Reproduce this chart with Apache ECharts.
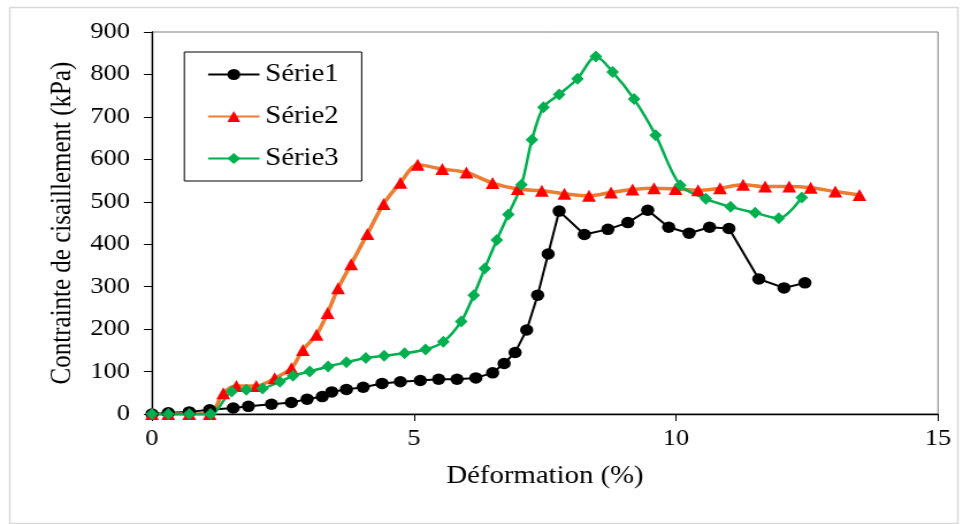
<!DOCTYPE html>
<html><head><meta charset="utf-8">
<script src="https://cdn.jsdelivr.net/npm/echarts@6/dist/echarts.min.js"></script>
<style>
html,body{margin:0;padding:0;background:#fff;overflow:hidden}
#wrap{width:963px;height:524px;overflow:hidden;position:relative;background:#fff}
#chart{width:837px;height:524px;transform:scaleX(1.150538);transform-origin:0 0}
</style></head>
<body><div id="wrap"><div id="chart"></div></div>
<script>
// ---- data ----
const seriesNames = ['Série1', 'Série2', 'Série3'];
const xAxisTitle = 'Déformation (%)';
const yAxisTitle = 'Contrainte de cisaillement (kPa)';
const xTicks = [0, 5, 10, 15];
const yTicks = [0, 100, 200, 300, 400, 500, 600, 700, 800, 900];

const s1x = [0, 0.31, 0.71, 1.1, 1.55, 1.84, 2.28, 2.66, 2.96, 3.25, 3.43, 3.71, 4.03, 4.39, 4.74, 5.12, 5.47, 5.82, 6.18, 6.5, 6.72, 6.93, 7.15, 7.36, 7.56, 7.77, 8.25, 8.7, 9.08, 9.46, 9.86, 10.25, 10.64, 11.01, 11.58, 12.06, 12.46];
const s1y = [0, 3, 5, 10, 14, 18, 23, 27, 35, 41, 52, 58, 63, 72, 76, 79, 82, 82, 85, 97, 119, 145, 198, 280, 377, 478, 423, 435, 451, 480, 440, 426, 440, 437, 318, 297, 309];

const s2x = [0, 0.31, 0.71, 1.1, 1.36, 1.61, 1.99, 2.34, 2.66, 2.88, 3.14, 3.35, 3.55, 3.8, 4.11, 4.42, 4.74, 5.07, 5.54, 6.0, 6.5, 6.98, 7.44, 7.87, 8.34, 8.76, 9.17, 9.58, 9.99, 10.42, 10.84, 11.28, 11.7, 12.16, 12.57, 13.04, 13.5];
const s2y = [0, 0, 0, 0, 49, 66, 66, 84, 108, 151, 187, 238, 296, 353, 424, 495, 545, 587, 577, 569, 544, 530, 526, 519, 514, 522, 529, 532, 530, 527, 532, 540, 536, 536, 533, 524, 516];

const s3x = [0, 0.31, 0.71, 1.12, 1.52, 1.80, 2.11, 2.44, 2.69, 3.01, 3.36, 3.71, 4.08, 4.43, 4.82, 5.22, 5.56, 5.9, 6.14, 6.35, 6.58, 6.8, 7.05, 7.25, 7.47, 7.77, 8.12, 8.47, 8.79, 9.2, 9.61, 10.08, 10.57, 11.04, 11.51, 11.96, 12.4];
const s3y = [0, 0, 0, 0, 53, 57, 60, 76, 90, 100, 112, 122, 132, 137, 143, 152, 170, 218, 280, 343, 410, 470, 540, 646, 723, 753, 790, 842, 806, 742, 657, 539, 507, 488, 474, 461, 510];

// ---- chart ----
const pair = (xs, ys) => xs.map((x, i) => [x, ys[i]]);
const FONT = 'Liberation Serif';
const chart = echarts.init(document.getElementById('chart'));
chart.setOption({
  animation: false,
  backgroundColor: '#fff',
  textStyle: { fontFamily: FONT, color: '#000' },
  grid: { left: 132.1, right: 21.7, top: 32, bottom: 110, show: true, borderColor: '#7f7f7f', borderWidth: 1 },
  graphic: [{
    type: 'rect', left: 6, top: 5, silent: true,
    shape: { width: 824, height: 516 },
    style: { fill: 'none', stroke: '#d9d9d9', lineWidth: 1.5 }
  }],
  legend: {
    orient: 'vertical', left: 160.2, top: 52,
    padding: [10, 20, 10, 19.7],
    borderColor: '#000', borderWidth: 1,
    itemWidth: 44.6, itemHeight: 14, itemGap: 17,
    textStyle: { fontFamily: FONT, fontSize: 25, lineHeight: 25, color: '#000' },
    data: seriesNames
  },
  xAxis: {
    type: 'value', min: xTicks[0], max: xTicks[xTicks.length - 1], interval: 5,
    name: xAxisTitle, nameLocation: 'middle', nameGap: 50,
    nameTextStyle: { fontFamily: FONT, fontSize: 25, color: '#000' },
    axisLine: { onZero: false, lineStyle: { color: '#000', width: 1.3 } },
    axisTick: { show: true, inside: false, length: 7, lineStyle: { color: '#000' } },
    axisLabel: { fontFamily: FONT, fontSize: 23, color: '#000', margin: 13 },
    splitLine: { show: false }
  },
  yAxis: {
    type: 'value', min: yTicks[0], max: yTicks[yTicks.length - 1], interval: 100,
    name: yAxisTitle, nameLocation: 'middle', nameGap: 65, nameRotate: 90,
    nameTextStyle: { fontFamily: FONT, fontSize: 25, color: '#000' },
    axisLine: { show: true, onZero: false, lineStyle: { color: '#000', width: 1.3 } },
    axisTick: { show: true, inside: false, length: 7, lineStyle: { color: '#000' } },
    axisLabel: { fontFamily: FONT, fontSize: 23, color: '#000', margin: 19 },
    splitLine: { show: false }
  },
  series: [
    {
      name: seriesNames[0], type: 'line', data: pair(s1x, s1y),
      symbol: 'circle', symbolSize: 11.5, smooth: false,
      lineStyle: { color: '#000', width: 2 },
      itemStyle: { color: '#000' }
    },
    {
      name: seriesNames[1], type: 'line', data: pair(s2x, s2y),
      symbol: 'triangle', symbolSize: [12, 12], smooth: 0.3,
      lineStyle: { color: '#ED7D31', width: 3.5 },
      itemStyle: { color: '#FF0000' }
    },
    {
      name: seriesNames[2], type: 'line', data: pair(s3x, s3y),
      symbol: 'diamond', symbolSize: [11, 12], smooth: 0.3,
      lineStyle: { color: '#00B050', width: 2.5 },
      itemStyle: { color: '#00B050' }
    }
  ]
});
</script>
</body></html>
